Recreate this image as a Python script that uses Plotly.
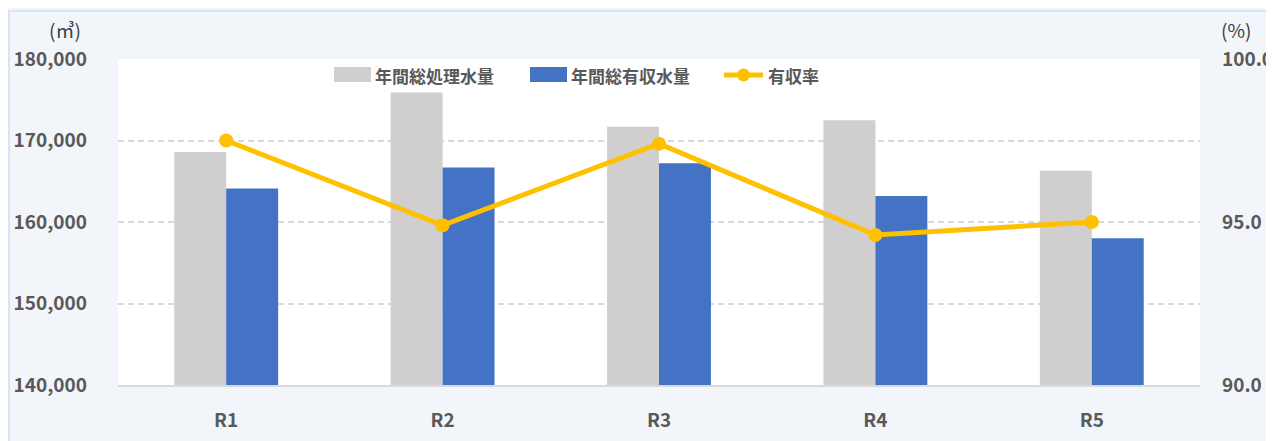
import plotly.graph_objects as go

categories = ["R1", "R2", "R3", "R4", "R5"]
total_water = [168600, 175900, 171700, 172500, 166300]
revenue_water = [164100, 166700, 167200, 163200, 158000]
revenue_rate = [97.5, 94.9, 97.4, 94.6, 95.0]
series_names = ["年間総処理水量", "年間総有収水量", "有収率"]

FONT = "Noto Sans CJK JP"
TXT = "#595959"
GRAY, BLUE, GOLD = "#D0CECE", "#4472C4", "#FFC000"

OFF = 8  # page body margin
L, R, T, B = 110, 82, 51, 64
W, H = 1274, 441
pw, ph = W - L - R, H - T - B

def px_x(px):  # page pixel -> paper
    return (px - OFF - L) / pw

def px_y(py):
    return (H - B - (py - OFF)) / ph

fig = go.Figure()
fig.add_trace(go.Bar(x=categories, y=total_water, name=series_names[0],
                     marker=dict(color=GRAY, line=dict(width=0))))
fig.add_trace(go.Bar(x=categories, y=revenue_water, name=series_names[1],
                     marker=dict(color=BLUE, line=dict(width=0))))
fig.add_trace(go.Scatter(x=categories, y=revenue_rate, name=series_names[2], yaxis="y2",
                         mode="lines+markers",
                         line=dict(color=GOLD, width=5),
                         marker=dict(color=GOLD, size=14)))

tickfont = dict(size=19, color=TXT, family=FONT, weight="bold")
legfont = dict(size=17, color=TXT, family=FONT, weight="bold")

shapes = [dict(type="rect", xref="paper", yref="paper", layer="below",
               x0=px_x(9), x1=px_x(1290), y0=px_y(460), y1=px_y(11),
               fillcolor="rgba(0,0,0,0)", line=dict(color="#DAE3F3", width=2))]
shapes.append(dict(type="rect", xref="paper", yref="paper",
                   x0=px_x(334), x1=px_x(371), y0=px_y(82), y1=px_y(67),
                   fillcolor=GRAY, line=dict(width=0)))
shapes.append(dict(type="rect", xref="paper", yref="paper",
                   x0=px_x(530), x1=px_x(567), y0=px_y(82), y1=px_y(67),
                   fillcolor=BLUE, line=dict(width=0)))
shapes.append(dict(type="line", xref="paper", yref="paper",
                   x0=px_x(724), x1=px_x(763), y0=px_y(75), y1=px_y(75),
                   line=dict(color=GOLD, width=5)))
shapes.append(dict(type="circle", xref="paper", yref="paper",
                   x0=px_x(737), x1=px_x(750), y0=px_y(81.5), y1=px_y(68.5),
                   fillcolor=GOLD, line=dict(width=0)))

annotations = [
    dict(text="(㎥)", xref="paper", yref="paper", x=px_x(65), y=px_y(45),
         xanchor="center", yanchor="bottom", showarrow=False,
         font=dict(size=19, color="#404040", family=FONT)),
    dict(text="(%)", xref="paper", yref="paper", x=px_x(1236), y=px_y(45),
         xanchor="center", yanchor="bottom", showarrow=False,
         font=dict(size=19, color="#404040", family=FONT)),
    dict(text=series_names[0], xref="paper", yref="paper", x=px_x(373), y=px_y(75),
         xanchor="left", yanchor="middle", showarrow=False, font=legfont),
    dict(text=series_names[1], xref="paper", yref="paper", x=px_x(569), y=px_y(75),
         xanchor="left", yanchor="middle", showarrow=False, font=legfont),
    dict(text=series_names[2], xref="paper", yref="paper", x=px_x(766), y=px_y(75),
         xanchor="left", yanchor="middle", showarrow=False, font=legfont),
]

fig.update_layout(
    width=W, height=H,
    margin=dict(l=L, r=R, t=T, b=B, pad=0, autoexpand=False),
    paper_bgcolor="#F2F5FA",
    plot_bgcolor="white",
    barmode="group", bargap=0.52, bargroupgap=0,
    font=dict(family=FONT, color=TXT, size=17),
    showlegend=False,
    xaxis=dict(showgrid=False, showline=True, linecolor="#D9D9D9", linewidth=1.5,
               ticks="", tickfont=tickfont, ticklabelstandoff=17, automargin=False),
    yaxis=dict(range=[140000, 180000], dtick=10000, tickformat=",",
               showgrid=True, gridcolor="#D9D9D9", griddash="6px,4px", gridwidth=1.5,
               zeroline=False, ticks="", tickfont=tickfont,
               ticklabelstandoff=30, automargin=False),
    yaxis2=dict(range=[90, 100], dtick=5, tickformat=".1f", overlaying="y", side="right",
                showgrid=False, zeroline=False, ticks="", tickfont=tickfont,
                ticklabelstandoff=21, automargin=False),
    shapes=shapes,
    annotations=annotations,
)

fig.write_html("out.html")
